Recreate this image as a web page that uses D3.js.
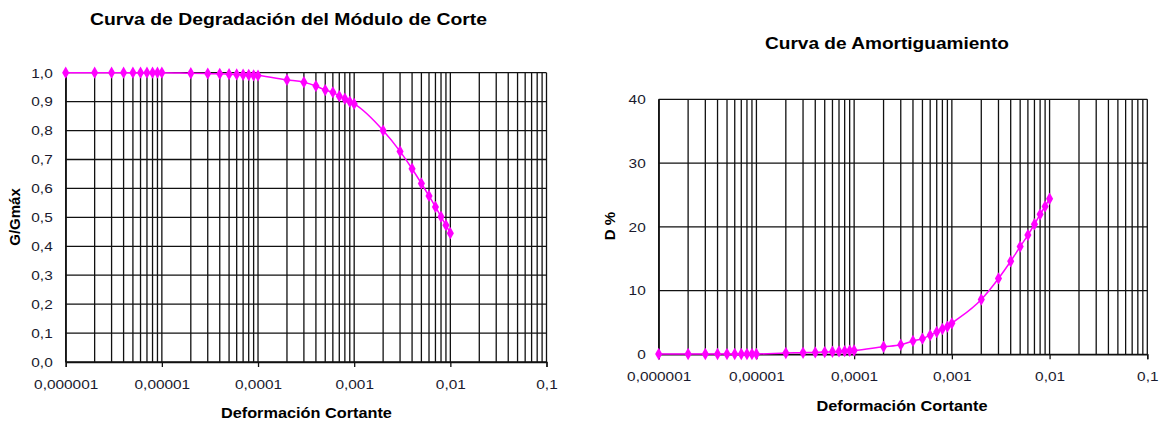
<!DOCTYPE html>
<html><head><meta charset="utf-8">
<script src="https://cdn.jsdelivr.net/npm/d3@7"></script>
<style>body{margin:0;background:#fff}svg{display:block}text{font-family:"Liberation Sans",Arial,sans-serif}</style>
</head><body>
<svg id="c" width="1164" height="425"></svg>
<script>
const strains = [1e-6,2e-6,3e-6,4e-6,5e-6,6e-6,7e-6,8e-6,9e-6,1e-5,
  2e-5,3e-5,4e-5,5e-5,6e-5,7e-5,8e-5,9e-5,1e-4,
  2e-4,3e-4,4e-4,5e-4,6e-4,7e-4,8e-4,9e-4,1e-3,
  2e-3,3e-3,4e-3,5e-3,6e-3,7e-3,8e-3,9e-3,1e-2];
const gRatio = [1,1,1,1,1,1,1,1,1,1,
  0.998,0.997,0.996,0.995,0.994,0.993,0.992,0.991,0.99,
  0.975,0.967,0.954,0.94,0.932,0.919,0.91,0.9,0.892,
  0.80,0.728,0.668,0.617,0.574,0.536,0.502,0.473,0.445];
const damping = [0.05,0.05,0.05,0.05,0.05,0.05,0.05,0.05,0.05,0.05,
  0.2,0.25,0.3,0.35,0.4,0.45,0.5,0.55,0.6,
  1.19,1.5,2.1,2.45,3.0,3.5,3.97,4.33,4.86,
  8.6,11.9,14.6,16.9,18.7,20.4,21.96,23.2,24.4];
const xTickVals = [1e-6,1e-5,1e-4,1e-3,1e-2,1e-1];
const xTickLabels = ["0,000001","0,00001","0,0001","0,001","0,01","0,1"];
const gTicks = [0,0.1,0.2,0.3,0.4,0.5,0.6,0.7,0.8,0.9,1.0];
const dTicks = [0,10,20,30,40];

const svg = d3.select("#c");
const gridVals = [];
for (let e=-6;e<=-2;e++) for (let m=1;m<=9;m++) gridVals.push(m*Math.pow(10,e));
gridVals.push(1e-1);

function stretch(sel,k){
  sel.each(function(){ const w=this.getComputedTextLength(); d3.select(this).attr("textLength",w*k).attr("lengthAdjust","spacingAndGlyphs"); });
}

function chart(cfg){
  const x = d3.scaleLog().domain([1e-6,1e-1]).range([cfg.x0,cfg.x1]);
  const y = d3.scaleLinear().domain(cfg.yDom).range([cfg.y1,cfg.y0]);
  const g = svg.append("g");
  g.append("g").selectAll("line").data(gridVals).join("line")
    .attr("x1",d=>x(d)).attr("x2",d=>x(d)).attr("y1",cfg.y0).attr("y2",cfg.y1)
    .attr("stroke","#111").attr("stroke-width",1.3);
  g.append("g").selectAll("line").data(cfg.yTicks).join("line")
    .attr("x1",cfg.x0).attr("x2",cfg.x1).attr("y1",d=>y(d)).attr("y2",d=>y(d))
    .attr("stroke","#111").attr("stroke-width",1.3);
  const xa = g.append("g").attr("transform",`translate(0,${cfg.y1})`)
    .call(d3.axisBottom(x).tickValues(xTickVals).tickFormat((d,i)=>xTickLabels[i]).tickSize(5).tickPadding(cfg.xPad));
  xa.select(".domain").attr("stroke","#111").attr("stroke-width",1.3);
  xa.selectAll(".tick line").attr("stroke","#111").attr("stroke-width",1.3);
  xa.selectAll("text").attr("font-size",13.5).attr("fill","#1a1a2e").attr("font-family","Liberation Sans, Arial");
  stretch(xa.selectAll("text"),1.14);
  const ya = g.append("g").attr("transform",`translate(${cfg.x0},0)`)
    .call(d3.axisLeft(y).tickValues(cfg.yTicks).tickFormat(cfg.yFmt).tickSize(0).tickPadding(cfg.yPad));
  ya.select(".domain").attr("stroke","#111").attr("stroke-width",1.3);
  ya.selectAll("text").attr("font-size",13.5).attr("fill","#1a1a2e").attr("font-family","Liberation Sans, Arial");
  stretch(ya.selectAll("text"),1.14);
  const line = d3.line().x((d,i)=>x(strains[i])).y(d=>y(d)).curve(d3.curveMonotoneX);
  g.append("path").datum(cfg.vals).attr("d",line).attr("fill","none").attr("stroke","#ff00ff").attr("stroke-width",1.5);
  g.append("g").selectAll("path").data(cfg.vals).join("path")
    .attr("d",d3.symbol(d3.symbolDiamond,44))
    .attr("transform",(d,i)=>`translate(${x(strains[i])},${y(d)})`)
    .attr("fill","#ff00ff");
  g.append("text").attr("x",cfg.tx).attr("y",cfg.ty).attr("text-anchor","middle")
    .attr("font-size",17).attr("font-weight","bold").attr("fill","#000")
    .attr("textLength",cfg.tw).attr("lengthAdjust","spacingAndGlyphs").text(cfg.title);
  g.append("text").attr("x",cfg.ax).attr("y",cfg.ay).attr("text-anchor","middle")
    .attr("font-size",15).attr("font-weight","bold").attr("fill","#000")
    .attr("textLength",171).attr("lengthAdjust","spacingAndGlyphs").text("Deformación Cortante");
  g.append("text").attr("transform",`translate(${cfg.lx},${cfg.ly}) rotate(-90)`).attr("text-anchor","middle")
    .attr("font-size",15).attr("font-weight","bold").attr("fill","#000").text(cfg.ylabel);
}

chart({x0:65.7,x1:546.5,y0:72.7,y1:362,yDom:[0,1],yTicks:gTicks,yFmt:d=>d3.format(".1f")(d).replace(".",","),yPad:13,xPad:12,
  vals:gRatio,title:"Curva de Degradación del Módulo de Corte",tx:288.5,ty:25,tw:397,ax:306.4,ay:418,ylabel:"G/Gmáx",lx:20,ly:217});
chart({x0:658.7,x1:1147.3,y0:99.3,y1:354.3,yDom:[0,40],yTicks:dTicks,yFmt:d=>String(d),yPad:13,xPad:12,
  vals:damping,title:"Curva de Amortiguamiento",tx:887,ty:49,tw:244,ax:902,ay:411,ylabel:"D %",lx:615,ly:226});
</script>
</body></html>
